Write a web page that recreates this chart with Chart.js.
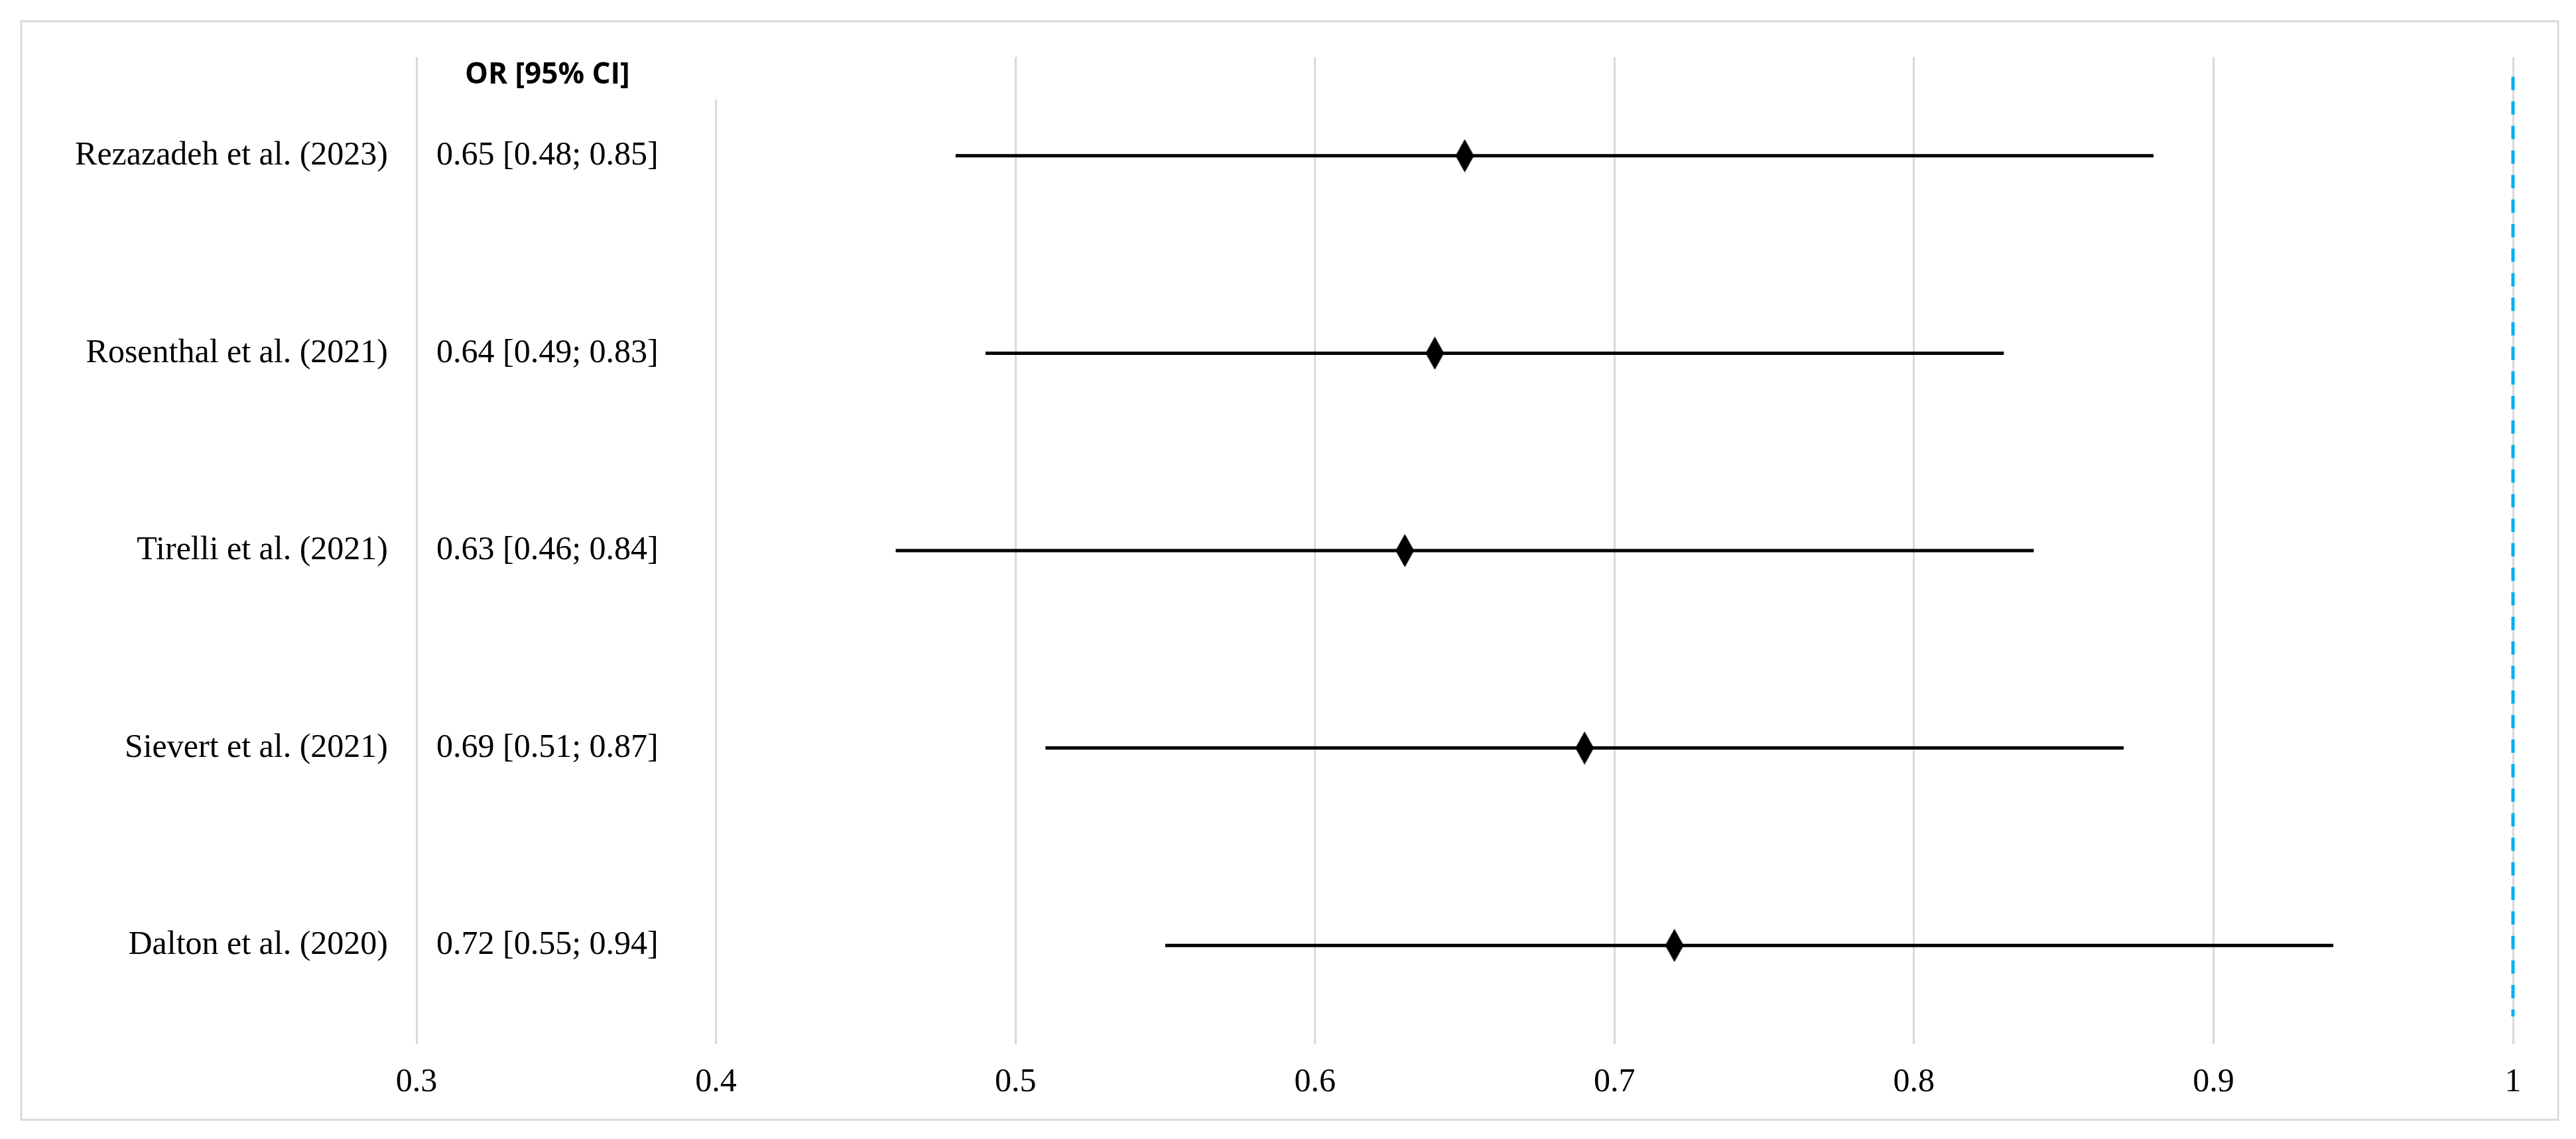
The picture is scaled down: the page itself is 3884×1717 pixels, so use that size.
<!DOCTYPE html>
<html>
<head>
<meta charset="utf-8">
<script src="https://cdn.jsdelivr.net/npm/chart.js@4.4.1/dist/chart.umd.min.js"></script>
<style>
    body { margin: 0; background: #ffffff; }
    #wrap { width: 3884px; height: 1717px; position: relative; }
</style>
</head>
<body>
<div id="wrap"><canvas id="forestChart"></canvas></div>
<script>
let studies = ["Rezazadeh et al. (2023)", "Rosenthal et al. (2021)", "Tirelli et al. (2021)", "Sievert et al. (2021)", "Dalton et al. (2020)"];
let ciText = ["0.65 [0.48; 0.85]", "0.64 [0.49; 0.83]", "0.63 [0.46; 0.84]", "0.69 [0.51; 0.87]", "0.72 [0.55; 0.94]"];
let orValues = [0.65, 0.64, 0.63, 0.69, 0.72];
let ciLow = [0.48, 0.49, 0.46, 0.51, 0.55];
let ciHigh = [0.88, 0.83, 0.84, 0.87, 0.94];
let rowPos = [0.5, 1.5, 2.5, 3.5, 4.5];
let refLineX = [1, 1];
let refLineY = [0.1, 4.86];
let xTicks = [0.3, 0.4, 0.5, 0.6, 0.7, 0.8, 0.9, 1];
let headerText = "OR [95% CI]";

function makeDiamond(w, h) {
    let c = document.createElement("canvas");
    c.width = w;
    c.height = h;
    let ctx = c.getContext("2d");
    ctx.fillStyle = "#000000";
    ctx.beginPath();
    ctx.moveTo(w / 2, 0);
    ctx.lineTo(w, h / 2);
    ctx.lineTo(w / 2, h);
    ctx.lineTo(0, h / 2);
    ctx.closePath();
    ctx.fill();
    return c;
}

let serif = "'Liberation Serif', 'Times New Roman', serif";

let forestText = {
    id: "forestText",
    afterDraw: function (chart) {
        let ctx = chart.ctx;
        let x = chart.scales.x;
        let y = chart.scales.y;
        let area = chart.chartArea;
        let colLeft = x.getPixelForValue(0.3) + 30;

        ctx.save();
        ctx.font = "50px " + serif;
        ctx.fillStyle = "#000000";
        ctx.textAlign = "left";
        ctx.textBaseline = "middle";
        let maxW = 0;
        ciText.forEach(function (t, i) {
            ctx.fillText(t, colLeft, y.getPixelForValue(rowPos[i]));
            maxW = Math.max(maxW, ctx.measureText(t).width);
        });

        // header box hides the top of the 0.4 gridline like in the original
        ctx.fillStyle = "#ffffff";
        ctx.fillRect(colLeft - 18, area.top - 2, x.getPixelForValue(0.4) + 12 - (colLeft - 18), 66);
        ctx.font = "bold 44px 'Open Sans', 'Liberation Sans', sans-serif";
        ctx.fillStyle = "#000000";
        ctx.textAlign = "center";
        ctx.fillText(headerText, colLeft + maxW / 2, area.top + 27);

        ctx.strokeStyle = "#d9d9d9";
        ctx.lineWidth = 3;
        ctx.strokeRect(32, 32, chart.width - 59, chart.height - 61);
        ctx.restore();
    }
};

let datasets = [];
datasets.push({
    label: "OR",
    data: orValues.map(function (v, i) { return { x: v, y: rowPos[i] }; }),
    pointStyle: makeDiamond(28, 50),
    pointRadius: 14,
    showLine: false
});
studies.forEach(function (s, i) {
    datasets.push({
        label: s,
        data: [{ x: ciLow[i], y: rowPos[i] }, { x: ciHigh[i], y: rowPos[i] }],
        showLine: true,
        borderColor: "#000000",
        borderWidth: 5,
        pointRadius: 0
    });
});
datasets.push({
    label: "ref",
    data: refLineX.map(function (v, i) { return { x: v, y: refLineY[i] }; }),
    showLine: true,
    borderColor: "#00b0f0",
    borderWidth: 5,
    borderDash: [20, 17],
    pointRadius: 0,
    clip: false
});

Chart.defaults.font.family = serif;
Chart.defaults.font.size = 50;
Chart.defaults.color = "#000000";

new Chart("forestChart", {
    type: "scatter",
    data: { datasets: datasets },
    options: {
        responsive: true,
        maintainAspectRatio: false,
        animation: false,
        layout: { padding: { left: 0, top: 86, right: 95, bottom: 0 } },
        plugins: {
            legend: { display: false },
            tooltip: { enabled: false }
        },
        scales: {
            x: {
                type: "linear",
                min: 0.3,
                max: 1,
                afterBuildTicks: function (scale) {
                    scale.ticks = xTicks.map(function (v) { return { value: v }; });
                },
                ticks: {
                    padding: 28,
                    autoSkip: false,
                    maxRotation: 0,
                    callback: function (v) { return String(Math.round(v * 10) / 10); }
                },
                grid: { color: "#d9d9d9", lineWidth: 3, drawTicks: false },
                border: { display: false },
                afterFit: function (scale) { scale.height = 143; }
            },
            y: {
                type: "linear",
                min: 0,
                max: 5,
                reverse: true,
                afterBuildTicks: function (scale) {
                    scale.ticks = rowPos.map(function (v) { return { value: v }; });
                },
                ticks: {
                    padding: 43,
                    autoSkip: false,
                    callback: function (v) { return studies[rowPos.indexOf(v)]; }
                },
                grid: { display: false, drawTicks: false },
                border: { display: false },
                afterFit: function (scale) { scale.width = 628; }
            }
        }
    },
    plugins: [forestText]
});
</script>
</body>
</html>
